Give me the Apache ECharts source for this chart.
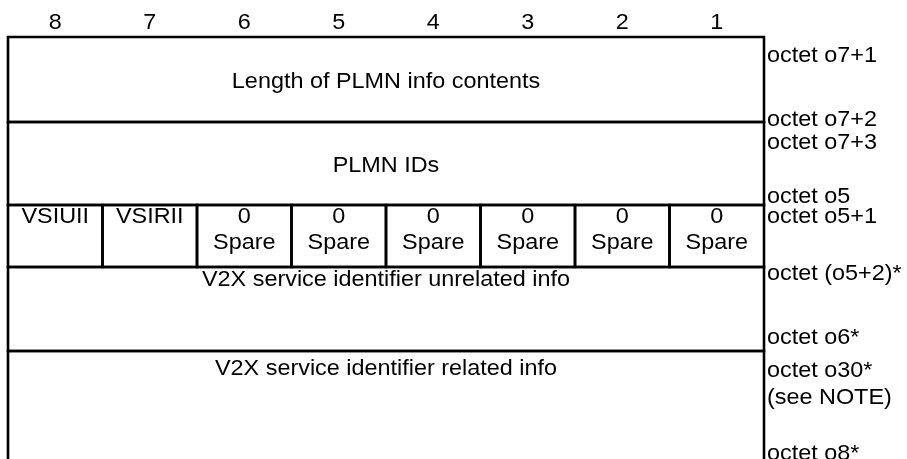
<!DOCTYPE html>
<html><head><meta charset="utf-8">
<script src="https://cdn.jsdelivr.net/npm/echarts@6/dist/echarts.min.js"></script>
<style>html,body{margin:0;padding:0;background:#fff}#c{width:907px;height:459px}</style>
</head><body><div id="c"></div>
<script>
// ---- data ----
const bitLabels = ['8', '7', '6', '5', '4', '3', '2', '1'];
// horizontal line positions (px below the top border); last edge lies past the bottom of the picture
const rowEdges = [0, 85, 168, 230, 314, 440];
const fieldNames = [
  'Length of PLMN info contents',
  'PLMN IDs',
  'VSIUII', 'VSIRII',
  '0\nSpare', '0\nSpare', '0\nSpare', '0\nSpare', '0\nSpare', '0\nSpare',
  'V2X service identifier unrelated info',
  'V2X service identifier related info'
];
const fieldRow     = [0, 1, 2, 2, 2, 2, 2, 2, 2, 2, 3, 4];
const fieldColFrom = [0, 0, 0, 1, 2, 3, 4, 5, 6, 7, 0, 0];
const fieldColTo   = [7, 7, 0, 1, 2, 3, 4, 5, 6, 7, 7, 7];
const octetLabels = [
  'octet o7+1', 'octet o7+2', 'octet o7+3', 'octet o5', 'octet o5+1',
  'octet (o5+2)*', 'octet o6*', 'octet o30*\n(see NOTE)', 'octet o8*'
];
const octetLabelY = [19, 83, 106, 160, 180, 237, 301, 333.5, 417];

// ---- layout / style ----
const FONT = "'Liberation Sans', Arial, sans-serif";
const FS = 22.5;      // glyph height
const SX = 1.04;      // slight horizontal stretch of the original drawing
const LH = 26;
const LH_RIGHT = 27;
const LINE_W = 2.6;
const MID_SHIFT = 2;
const HEADER_Y = -14;  // header digits centre, px above the top border
// vertical placement of the first text line in each row: null = centred in row, number = offset from row top
const rowTextDy = [null, null, 12, 12.5, 18];

function txt(t, x, y, align) {
  return {
    type: 'text', x: x, y: y, scaleX: SX, scaleY: 1,
    style: {
      text: t, x: 0, y: 0, align: align, verticalAlign: 'middle',
      fill: '#000', fontSize: FS, fontFamily: FONT
    }
  };
}

const chart = echarts.init(document.getElementById('c'), null, {renderer: 'canvas'});

chart.setOption({
  animation: false,
  backgroundColor: '#ffffff',
  grid: {left: 8, right: 143, top: 37, bottom: 0, containLabel: false},
  xAxis: {
    type: 'category', data: bitLabels, position: 'top', boundaryGap: true,
    axisLine: {show: false}, axisTick: {show: false}, splitLine: {show: false},
    axisLabel: {show: false}
  },
  yAxis: {
    type: 'value', min: 0, max: 422, inverse: true, show: false,
    splitLine: {show: false}
  },
  series: [
    {
      // bit-number header
      type: 'custom', clip: false, silent: true,
      encode: {x: 0, y: 1},
      data: bitLabels.map((b, i) => [i, 0]),
      renderItem: function (params, api) {
        const p = api.coord([api.value(0), api.value(1)]);
        return txt(bitLabels[params.dataIndex], p[0], p[1] + HEADER_Y, 'center');
      }
    },
    {
      type: 'custom', clip: false, silent: true,
      encode: {x: [0, 1], y: 2},
      data: fieldNames.map((n, i) => [fieldColFrom[i], fieldColTo[i], fieldRow[i]]),
      renderItem: function (params, api) {
        const i = params.dataIndex;
        const c0 = api.value(0), c1 = api.value(1), r = api.value(2);
        const bw = api.size([1, 0])[0];
        const x0 = api.coord([c0, rowEdges[r]])[0] - bw / 2;
        const x1 = api.coord([c1, rowEdges[r]])[0] + bw / 2;
        const y0 = api.coord([c0, rowEdges[r]])[1];
        const y1 = api.coord([c0, rowEdges[r + 1]])[1];
        const dy = rowTextDy[r];
        const lines = fieldNames[i].split('\n');
        const firstY = dy == null ? (y0 + y1) / 2 + MID_SHIFT - (lines.length - 1) * LH / 2 : y0 + dy;
        const children = [{
          type: 'rect',
          shape: {x: x0, y: y0, width: x1 - x0, height: y1 - y0},
          style: {fill: 'none', stroke: '#000', lineWidth: LINE_W}
        }];
        lines.forEach((t, k) => {
          children.push(txt(t, (x0 + x1) / 2, firstY + k * LH, 'center'));
        });
        return {type: 'group', children: children};
      }
    },
    {
      type: 'custom', clip: false, silent: true,
      encode: {x: 0, y: 1},
      data: octetLabels.map((t, i) => [bitLabels.length - 1, octetLabelY[i]]),
      renderItem: function (params, api) {
        const i = params.dataIndex;
        const bw = api.size([1, 0])[0];
        const p = api.coord([api.value(0), api.value(1)]);
        const lines = octetLabels[i].split('\n');
        return {
          type: 'group',
          children: lines.map((t, k) => txt(t, p[0] + bw / 2 + 3, p[1] + k * LH_RIGHT, 'left'))
        };
      }
    }
  ]
});
</script>
</body></html>
